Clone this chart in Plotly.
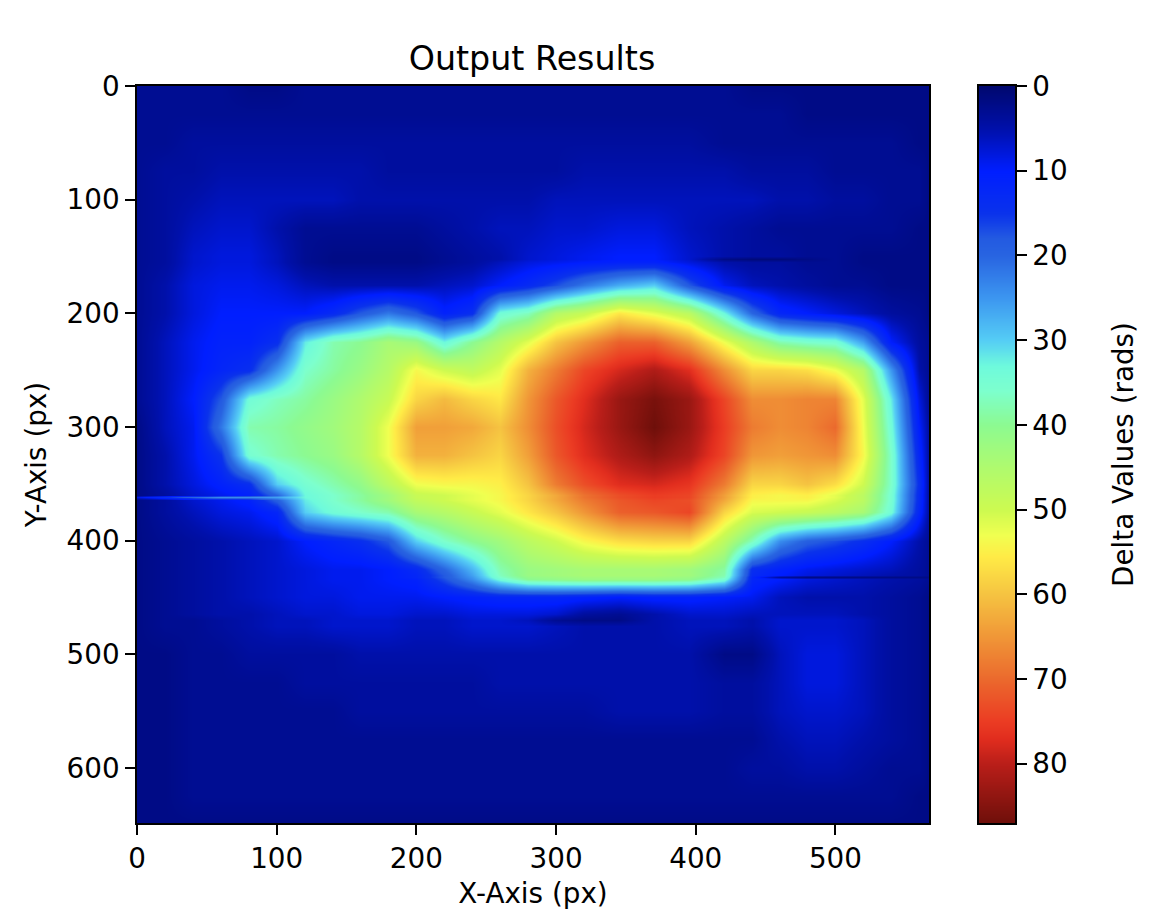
import plotly.graph_objects as go

x_nodes = [0,20,40,60,80,100,120,140,160,180,200,220,240,260,280,300,320,345,370,395,420,440,460,480,500,520,540,560,567]
y_nodes = [0,25,50,75,100,125,150,152,155,175,200,225,250,275,300,325,350,360,362,364,375,400,425,430,432,434,450,465,470,475,500,525,550,575,600,625,650]
delta_rows = [
 [3,3,3,3,2,2,3,3,3,3,3,3,3,3,3,3,3,3,3,3,3,2,2,2,2,2,2,2,2],
 [3,3,3,3,3,3,3,3,3,3,3,3,3,3,3,3,3,3,3,3,3,3,3,2,2,2,2,2,2],
 [3,3,4,4,4,4,4,4,4,4,4,4,4,4,4,4,4,4,4,4,3,3,3,3,3,3,3,2,2],
 [3,4,4,5,5,5,5,5,5,4,4,4,4,4,4,4,5,5,5,5,5,4,4,4,3,3,3,3,2],
 [3,4,5,6,6,6,6,6,5,5,5,5,5,5,5,6,6,6,6,6,6,6,5,5,4,4,3,3,2],
 [3,4,6,7,7,5,3,3,3,3,3,4,5,6,6,7,7,8,8,6,5,4,3,3,3,3,3,2,2],
 [3,4,7,8,8,6,3,2,2,2,2,3,4,5,7,8,9,10,10,7,5,4,4,3,3,2,2,2,2],
 [3,4,7,8,8,6,3,2,2,2,2,3,4,5,7,8,9,10,10,7,2,1,1,2,3,2,2,2,2],
 [3,4,7,8,8,6,3,2,2,2,2,3,4,6,8,9,10,11,11,8,5,4,4,3,3,2,2,2,2],
 [3,5,8,9,9,8,6,5,5,5,5,6,7,10,13,17,22,27,30,18,9,6,5,4,3,3,2,2,2],
 [3,5,8,10,10,10,10,13,18,22,18,11,14,34,37,46,49,56,52,47,33,20,12,10,8,6,4,3,2],
 [3,6,9,11,11,14,32,38,40,44,42,33,40,46,52,60,65,71,71,64,53,45,38,36,35,26,10,4,3],
 [3,6,9,12,14,25,36,39,42,46,54,50,48,52,62,68,74,78,81,77,66,58,58,57,53,46,25,5,3],
 [3,6,10,18,34,37,39,42,45,49,58,61,58,56,65,72,77,83,86,83,74,66,66,67,67,52,32,8,3],
 [2,6,9,22,38,39,41,43,46,53,64,64,63,60,66,73,78,83,87,83,75,68,66,67,70,53,34,10,4],
 [2,5,9,15,35,38,40,42,46,53,62,62,60,58,64,72,77,81,84,81,74,65,64,65,66,54,36,12,4],
 [2,5,8,11,14,30,35,38,41,47,53,54,54,55,60,68,73,77,78,76,68,58,58,60,57,50,36,14,4],
 [2,4,7,9,11,20,33,36,39,43,49,50,52,54,58,63,69,73,75,74,64,55,54,55,52,47,35,13,4],
 [8,14,20,24,24,26,33,36,39,43,49,50,52,54,58,63,69,73,75,74,64,55,54,55,52,47,35,13,4],
 [2,4,7,9,11,19,32,36,39,43,48,50,52,54,58,63,68,72,74,73,63,54,54,54,51,47,35,13,4],
 [2,4,6,8,9,12,30,34,36,38,44,46,49,52,56,60,65,71,72,74,58,51,50,49,47,44,34,12,4],
 [2,3,4,5,6,7,10,12,14,18,30,36,40,43,47,50,54,57,58,58,47,37,24,19,17,14,10,5,3],
 [2,3,4,5,6,7,8,9,9,10,13,20,28,38,42,43,44,44,44,43,39,14,11,9,8,7,6,4,3],
 [2,3,4,5,6,7,8,9,9,10,12,18,26,37,42,43,44,44,44,43,38,13,10,8,7,6,5,4,3],
 [2,3,4,5,6,7,8,9,9,10,12,18,25,36,41,42,43,43,43,42,37,12,4,2,2,2,2,2,2],
 [2,3,4,5,6,7,8,9,9,10,11,17,24,34,40,41,42,42,42,41,35,12,10,8,7,6,5,4,3],
 [2,3,4,5,6,7,8,8,9,9,9,10,11,12,12,12,11,10,11,11,10,9,6,5,5,5,4,3,2],
 [2,3,4,5,5,6,7,7,8,8,7,7,8,8,8,7,4,3,5,7,7,6,6,6,6,5,4,3,2],
 [2,3,3,4,5,6,6,7,7,7,6,6,7,7,6,3,2,2,5,6,6,5,7,7,7,6,4,3,2],
 [2,3,3,4,5,6,6,7,7,7,6,6,7,7,7,6,5,5,5,6,6,5,7,7,7,6,4,3,2],
 [2,2,3,3,4,4,4,4,5,5,5,5,5,5,5,5,5,5,5,5,2,2,6,8,8,6,4,3,2],
 [2,2,3,3,3,3,4,4,4,4,4,4,4,5,5,5,5,5,5,5,4,4,6,8,8,6,4,3,2],
 [2,2,3,3,3,3,3,3,4,4,4,4,4,4,4,4,4,5,5,5,4,4,6,7,7,6,4,3,2],
 [2,2,3,3,3,3,3,3,3,3,3,3,3,3,3,3,3,3,3,3,3,3,5,6,6,5,4,3,2],
 [2,2,3,3,3,3,3,3,3,3,3,3,3,3,3,3,3,3,3,3,3,4,4,5,5,4,3,3,2],
 [2,2,3,3,3,3,3,3,3,3,3,3,3,3,3,3,3,3,3,3,3,3,3,3,3,3,3,2,2],
 [2,2,2,2,2,2,2,2,2,2,2,2,2,2,2,2,2,2,2,2,2,2,2,2,2,2,2,2,2],
]
assert all(len(r) == len(x_nodes) for r in delta_rows) and len(delta_rows) == len(y_nodes)

z_min, z_max = 0, 87
cmap_levels = [0,5,10,15,18,20,25,30,33,36,40,45,50,53,55.5,60,65,70,75,77,80,87]
cmap_colors = ["rgb(0,8,110)","rgb(0,16,170)","rgb(0,30,255)","rgb(10,50,235)","rgb(35,90,225)","rgb(40,100,225)",
               "rgb(60,150,240)","rgb(85,205,245)","rgb(110,250,220)","rgb(125,255,205)","rgb(140,250,145)","rgb(175,250,110)",
               "rgb(205,250,80)","rgb(240,255,80)","rgb(255,235,70)","rgb(245,195,65)","rgb(240,150,55)","rgb(235,105,45)",
               "rgb(235,60,35)","rgb(225,45,30)","rgb(185,30,25)","rgb(110,15,10)"]
colorscale = [[l / z_max, c] for l, c in zip(cmap_levels, cmap_colors)]
bar_levels = list(range(z_min, z_max + 1))
x_ticks = [0,100,200,300,400,500]
y_ticks = [0,100,200,300,400,500,600]
bar_ticks = [0,10,20,30,40,50,60,70,80]

W, H = 1172, 920
LEFT, RIGHT, TOP, BOTTOM = 137, 1015, 86, 823
PW = RIGHT - LEFT
FONT = "DejaVu Sans"
BLACK = "#000000"
TICK_SIZE = 27.8
axis_style = dict(showline=True, linecolor=BLACK, linewidth=2.2, mirror=True, showgrid=False, zeroline=False,
                  ticks="outside", ticklen=9.7, tickwidth=2.2, tickcolor=BLACK,
                  tickfont=dict(size=TICK_SIZE, color=BLACK), automargin=False)

fig = go.Figure()
fig.add_trace(go.Heatmap(x=x_nodes, y=y_nodes, z=delta_rows, zmin=z_min, zmax=z_max, colorscale=colorscale,
                         zsmooth="best", showscale=False, xaxis="x", yaxis="y"))
fig.add_trace(go.Heatmap(x=[0, 1], y=bar_levels, z=[[v, v] for v in bar_levels], zmin=z_min, zmax=z_max,
                         colorscale=colorscale, zsmooth="best", showscale=False, xaxis="x2", yaxis="y2"))
fig.update_layout(
    width=W, height=H, margin=dict(l=LEFT, r=W-RIGHT, t=TOP, b=H-BOTTOM, autoexpand=False),
    paper_bgcolor="white", plot_bgcolor="white",
    font=dict(family=FONT, color=BLACK, size=TICK_SIZE),
    title=dict(text="Output Results", font=dict(size=33.3, color=BLACK), x=532/W, xanchor="center",
               y=1-58/H, yanchor="middle"),
    xaxis=dict(domain=[0, (929-LEFT)/PW], range=[0, 567], tickvals=x_ticks, anchor="y",
               title=dict(text="X-Axis (px)", font=dict(size=TICK_SIZE), standoff=9), **axis_style),
    yaxis=dict(domain=[0, 1], range=[648.5, 0], tickvals=y_ticks, anchor="x",
               title=dict(text="Y-Axis (px)", font=dict(size=TICK_SIZE), standoff=12), **axis_style),
    xaxis2=dict(domain=[(979-LEFT)/PW, 1], range=[0, 1], anchor="y2", showticklabels=False, ticks="",
                showline=True, linecolor=BLACK, linewidth=2.2, mirror=True, showgrid=False, zeroline=False),
    yaxis2=dict(domain=[0, 1], range=[z_max, z_min], tickvals=bar_ticks, anchor="x2", side="right",
                title=dict(text="Delta Values (rads)", font=dict(size=TICK_SIZE), standoff=47), **axis_style),
)
fig.write_html("out.html", config={"displayModeBar": False},
               post_script="document.body.style.margin='0';document.documentElement.style.overflow='hidden';")
